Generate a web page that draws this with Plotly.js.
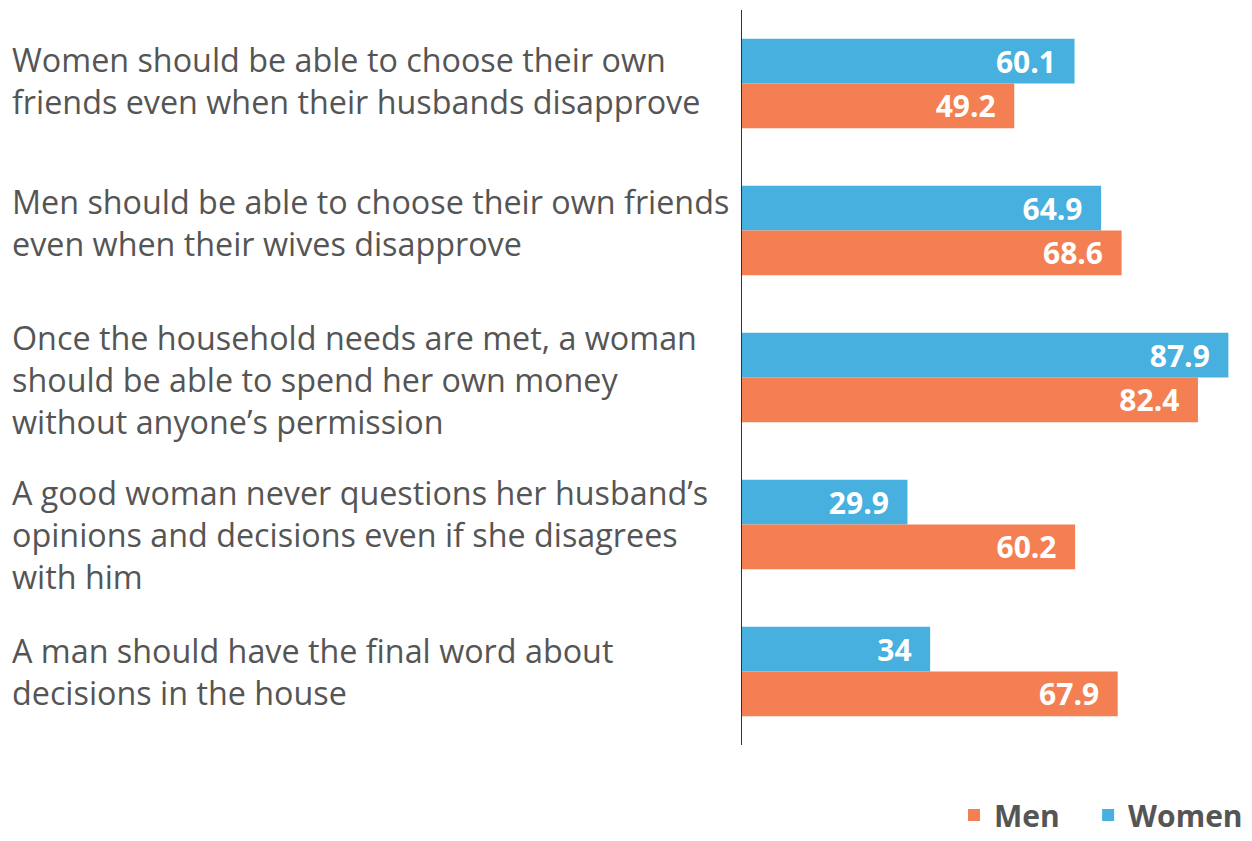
<!DOCTYPE html>
<html>
<head>
<meta charset="utf-8">
<script src="https://cdn.plot.ly/plotly-3.0.1.min.js"></script>
<style>
html,body{margin:0;padding:0;background:#fff;}
#chart{width:1252px;height:841px;}
</style>
</head>
<body>
<div id="chart"></div>
<script>
var categories = [
  "Women should be able to choose their own<br>friends even when their husbands disapprove",
  "Men should be able to choose their own friends<br>even when their wives disapprove",
  "Once the household needs are met, a woman<br>should be able to spend her own money<br>without anyone\u2019s permission",
  "A good woman never questions her husband\u2019s<br>opinions and decisions even if she disagrees<br>with him",
  "A man should have the final word about<br>decisions in the house"
];
var catKeys = ["c1", "c2", "c3", "c4", "c5"];
var women = [60.1, 64.9, 87.9, 29.9, 34];
var men = [49.2, 68.6, 82.4, 60.2, 67.9];
var seriesNames = ["Women", "Men"];
var colors = {Women: "#47B0DF", Men: "#F37F52"};

// label vertical nudges (px), styling only
var labelShift = [4, 9, -1, -9, 1];

var labelFont = {family: "Open Sans, sans-serif", size: 30, color: "#fff"};
var legendPad = "\u00a0\u00a0\u00a0";

var traces = [
  {
    type: "bar", orientation: "h", name: seriesNames[0],
    y: catKeys, x: women,
    marker: {color: colors.Women},
    text: women.map(function(v){return "<b>" + v + "</b>\u00a0\u00a0";}),
    textposition: "inside", insidetextanchor: "end", constraintext: "none",
    textfont: labelFont, hoverinfo: "x", legendrank: 2
  },
  {
    type: "bar", orientation: "h", name: seriesNames[1] + legendPad,
    y: catKeys, x: men,
    marker: {color: colors.Men},
    text: men.map(function(v){return "<b>" + v + "</b>\u00a0\u00a0";}),
    textposition: "inside", insidetextanchor: "end", constraintext: "none",
    textfont: labelFont, hoverinfo: "x", legendrank: 1
  }
];

var L = 742, R = 12, W = 1252 - L - R;
var annotations = categories.map(function(c, i){
  return {
    xref: "paper", yref: "y", x: (10 - L) / W, y: catKeys[i],
    xanchor: "left", yanchor: "middle", align: "left",
    text: c, showarrow: false, yshift: labelShift[i],
    font: {family: "Open Sans, sans-serif", size: 32.3, color: "#555"}
  };
});

var layout = {
  width: 1252, height: 841,
  margin: {l: L, r: R, t: 10, b: 96, autoexpand: false},
  paper_bgcolor: "#fff", plot_bgcolor: "#fff",
  barmode: "group", bargap: 0.39, bargroupgap: 0,
  xaxis: {range: [0, 90], visible: false, showgrid: false, zeroline: false, fixedrange: true},
  yaxis: {type: "category", autorange: "reversed", showticklabels: false, ticks: "",
          showgrid: false, zeroline: false, showline: true, linecolor: "#333", linewidth: 1.5},
  showlegend: true,
  legend: {orientation: "h", x: 1 + 8 / W, xanchor: "right", yref: "container", y: 0, yanchor: "bottom",
           font: {family: "Open Sans, sans-serif", size: 30, color: "#555", weight: "bold"},
           itemclick: false},
  annotations: annotations
};

Plotly.newPlot("chart", traces, layout, {displayModeBar: false, staticPlot: true});
</script>
</body>
</html>
